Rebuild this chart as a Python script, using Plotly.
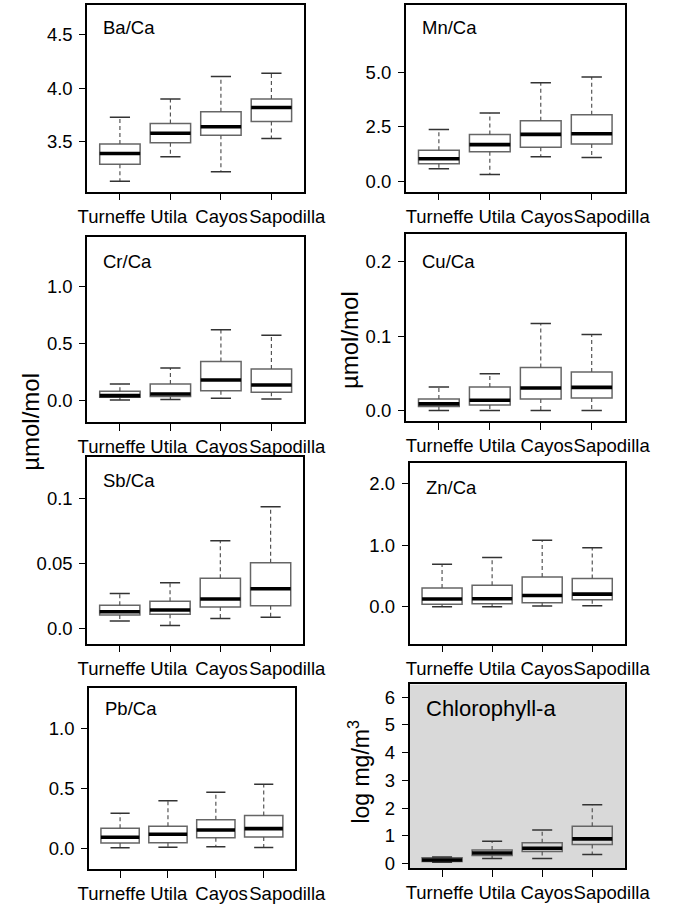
import plotly.graph_objects as go

W, H = 684, 907

sites = ["Turneffe", "Utila", "Cayos", "Sapodilla"]

# ---- data: box-plot statistics per site (lower whisker, Q1, median, Q3, upper whisker)
ba_lower = [3.13, 3.36, 3.22, 3.53]
ba_q1 = [3.29, 3.49, 3.56, 3.69]
ba_median = [3.39, 3.58, 3.64, 3.82]
ba_q3 = [3.48, 3.67, 3.78, 3.90]
ba_upper = [3.73, 3.90, 4.11, 4.14]

mn_lower = [0.56, 0.30, 1.12, 1.08]
mn_q1 = [0.79, 1.35, 1.55, 1.70]
mn_median = [1.02, 1.67, 2.14, 2.17]
mn_q3 = [1.41, 2.14, 2.77, 3.04]
mn_upper = [2.36, 3.12, 4.51, 4.77]

cr_lower = [0.006, 0.009, 0.020, 0.015]
cr_q1 = [0.029, 0.035, 0.087, 0.073]
cr_median = [0.044, 0.058, 0.181, 0.137]
cr_q3 = [0.082, 0.146, 0.344, 0.277]
cr_upper = [0.146, 0.286, 0.624, 0.574]

cu_lower = [0.000, 0.000, 0.000, 0.000]
cu_q1 = [0.0053, 0.0076, 0.0156, 0.0169]
cu_median = [0.0089, 0.0138, 0.0302, 0.0311]
cu_q3 = [0.0156, 0.0316, 0.0578, 0.0516]
cu_upper = [0.0316, 0.0493, 0.117, 0.102]

sb_lower = [0.0059, 0.0023, 0.0077, 0.0087]
sb_q1 = [0.0105, 0.0110, 0.0166, 0.0176]
sb_median = [0.0130, 0.0143, 0.0228, 0.0307]
sb_q3 = [0.0179, 0.0210, 0.0389, 0.0507]
sb_upper = [0.0271, 0.0353, 0.0678, 0.0939]

zn_lower = [0.0, 0.0, 0.011, 0.016]
zn_q1 = [0.038, 0.049, 0.065, 0.113]
zn_median = [0.124, 0.129, 0.183, 0.205]
zn_q3 = [0.302, 0.350, 0.485, 0.458]
zn_upper = [0.69, 0.80, 1.08, 0.96]

pb_lower = [0.003, 0.008, 0.011, 0.006]
pb_q1 = [0.042, 0.044, 0.086, 0.094]
pb_median = [0.091, 0.116, 0.152, 0.163]
pb_q3 = [0.166, 0.183, 0.238, 0.274]
pb_upper = [0.291, 0.396, 0.468, 0.535]

chl_lower = [0.05, 0.18, 0.18, 0.33]
chl_q1 = [0.07, 0.29, 0.43, 0.69]
chl_median = [0.13, 0.38, 0.55, 0.89]
chl_q3 = [0.21, 0.49, 0.75, 1.34]
chl_upper = [0.24, 0.80, 1.21, 2.12]

ba_ticks = [3.5, 4.0, 4.5]
ba_ticklabels = ["3.5", "4.0", "4.5"]
mn_ticks = [0.0, 2.5, 5.0]
mn_ticklabels = ["0.0", "2.5", "5.0"]
cr_ticks = [0.0, 0.5, 1.0]
cr_ticklabels = ["0.0", "0.5", "1.0"]
cu_ticks = [0.0, 0.1, 0.2]
cu_ticklabels = ["0.0", "0.1", "0.2"]
sb_ticks = [0.0, 0.05, 0.1]
sb_ticklabels = ["0.0", "0.05", "0.1"]
zn_ticks = [0.0, 1.0, 2.0]
zn_ticklabels = ["0.0", "1.0", "2.0"]
pb_ticks = [0.0, 0.5, 1.0]
pb_ticklabels = ["0.0", "0.5", "1.0"]
chl_ticks = [0, 1, 2, 3, 4, 5, 6]
chl_ticklabels = ["0", "1", "2", "3", "4", "5", "6"]

# ---- layout: category-label centres (pixels) for each column of panels
LABEL_PX_LEFT = [108, 169, 225, 295]
LABEL_PX_RIGHT = [457, 518, 571, 640]

# panel frames (left, right, top, bottom in px) and y ranges
panels = [
    dict(title="Ba/Ca", stats=(ba_lower, ba_q1, ba_median, ba_q3, ba_upper),
         ticks=ba_ticks, labels=ba_ticklabels, frame=(82, 313, 5, 193), yr=(3.033, 4.779), ty=28,
         lab=LABEL_PX_LEFT),
    dict(title="Mn/Ca", stats=(mn_lower, mn_q1, mn_median, mn_q3, mn_upper),
         ticks=mn_ticks, labels=mn_ticklabels, frame=(421, 654, 5, 193), yr=(-0.49, 8.08), ty=28,
         lab=LABEL_PX_RIGHT),
    dict(title="Cr/Ca", stats=(cr_lower, cr_q1, cr_median, cr_q3, cr_upper),
         ticks=cr_ticks, labels=cr_ticklabels, frame=(82, 313, 239, 425), yr=(-0.19, 1.436), ty=263,
         lab=LABEL_PX_LEFT),
    dict(title="Cu/Ca", stats=(cu_lower, cu_q1, cu_median, cu_q3, cu_upper),
         ticks=cu_ticks, labels=cu_ticklabels, frame=(421, 654, 236, 424), yr=(-0.0143, 0.2364), ty=263,
         lab=LABEL_PX_RIGHT),
    dict(title="Sb/Ca", stats=(sb_lower, sb_q1, sb_median, sb_q3, sb_upper),
         ticks=sb_ticks, labels=sb_ticklabels, frame=(82, 312, 460, 648), yr=(-0.0117, 0.1324), ty=484,
         lab=LABEL_PX_LEFT),
    dict(title="Zn/Ca", stats=(zn_lower, zn_q1, zn_median, zn_q3, zn_upper),
         ticks=zn_ticks, labels=zn_ticklabels, frame=(425, 654, 466, 648), yr=(-0.603, 2.34), ty=491,
         lab=LABEL_PX_RIGHT),
    dict(title="Pb/Ca", stats=(pb_lower, pb_q1, pb_median, pb_q3, pb_upper),
         ticks=pb_ticks, labels=pb_ticklabels, frame=(84, 303, 693, 875), yr=(-0.177, 1.338), ty=713,
         lab=LABEL_PX_LEFT),
    dict(title="Chlorophyll-a", stats=(chl_lower, chl_q1, chl_median, chl_q3, chl_upper),
         ticks=chl_ticks, labels=chl_ticklabels, frame=(425, 654, 689, 874), yr=(-0.168, 6.455), ty=713,
         bg="#d9d9d9", tsize=22, lab=LABEL_PX_RIGHT),
]

FONT = "Liberation Sans, Arial, sans-serif"
BOXW = 0.8
CAPW = 0.4
XR = (0.35, 4.65)

fig = go.Figure()
layout = dict(
    width=W, height=H, margin=dict(l=0, r=0, t=0, b=0),
    paper_bgcolor="white", plot_bgcolor="rgba(0,0,0,0)",
    showlegend=False, font=dict(family=FONT, color="black"),
    annotations=[], shapes=[],
)

positions = [1, 2, 3, 4]
N = len(panels)

for k, p in enumerate(panels, start=1):
    l, r, t, b = p["frame"]
    xa = "x" if k == 1 else f"x{k}"
    ya = "y" if k == 1 else f"y{k}"
    lower, q1, med, q3, upper = p["stats"]

    if "bg" in p:
        layout["shapes"].append(dict(type="rect", xref=f"{xa} domain", yref=f"{ya} domain",
                                     x0=0, x1=1, y0=0, y1=1, fillcolor=p["bg"],
                                     line=dict(width=0), layer="below"))

    # boxes (whiskers drawn separately as dashed lines)
    for i, pos in enumerate(positions):
        fig.add_trace(go.Box(
            x=[pos], q1=[q1[i]], median=[med[i]], q3=[q3[i]],
            lowerfence=[q1[i]], upperfence=[q3[i]],
            width=BOXW, whiskerwidth=0,
            fillcolor="rgba(0,0,0,0)", line=dict(color="#666666", width=1.5),
            boxpoints=False, xaxis=xa, yaxis=ya, hoverinfo="skip"))

    # dashed whiskers
    wx, wy = [], []
    for i, pos in enumerate(positions):
        wx += [pos, pos, None, pos, pos, None]
        wy += [q3[i], upper[i], None, q1[i], lower[i], None]
    fig.add_trace(go.Scatter(x=wx, y=wy, mode="lines", xaxis=xa, yaxis=ya,
                             line=dict(color="#555555", width=1.2, dash="4px,3px"),
                             hoverinfo="skip"))
    # caps
    cx, cy = [], []
    for i, pos in enumerate(positions):
        cx += [pos - CAPW / 2, pos + CAPW / 2, None, pos - CAPW / 2, pos + CAPW / 2, None]
        cy += [upper[i], upper[i], None, lower[i], lower[i], None]
    fig.add_trace(go.Scatter(x=cx, y=cy, mode="lines", xaxis=xa, yaxis=ya,
                             line=dict(color="#333333", width=1.5), hoverinfo="skip"))
    # thick medians
    mx, my = [], []
    for i, pos in enumerate(positions):
        mx += [pos - BOXW / 2, pos + BOXW / 2, None]
        my += [med[i], med[i], None]
    fig.add_trace(go.Scatter(x=mx, y=my, mode="lines", xaxis=xa, yaxis=ya,
                             line=dict(color="black", width=3.6), hoverinfo="skip"))

    axis_common = dict(showline=True, mirror=True, linecolor="black", linewidth=1.5,
                       ticks="outside", ticklen=6, tickwidth=1.3, tickcolor="black",
                       showgrid=False, zeroline=False,
                       tickfont=dict(size=18.5, family=FONT, color="black"))
    # main x axis: ticks at the box positions, no labels
    layout["xaxis" if k == 1 else f"xaxis{k}"] = dict(
        axis_common, domain=[l / W, r / W], anchor=ya, range=list(XR),
        tickmode="array", tickvals=positions, showticklabels=False, ticklen=7)
    # overlay x axis carrying the category labels (spread apart as in the original)
    lab_x = [XR[0] + (px - l) / (r - l) * (XR[1] - XR[0]) for px in p["lab"]]
    layout[f"xaxis{k + N}"] = dict(
        domain=[l / W, r / W], anchor=ya, overlaying=xa, side="bottom", range=list(XR),
        showline=False, showgrid=False, zeroline=False,
        ticks="outside", ticklen=7, tickcolor="rgba(0,0,0,0)",
        tickmode="array", tickvals=lab_x, ticktext=sites, tickangle=0,
        ticklabelstandoff=1, tickfont=dict(size=18.5, family=FONT, color="black"))
    layout["yaxis" if k == 1 else f"yaxis{k}"] = dict(
        axis_common, domain=[1 - b / H, 1 - t / H], anchor=xa, range=list(p["yr"]),
        tickmode="array", tickvals=p["ticks"], ticktext=p["labels"],
        ticklabelstandoff=3)

    layout["annotations"].append(dict(
        text=p["title"], xref="paper", yref="paper", x=(l + 15) / W, y=1 - p["ty"] / H,
        xanchor="left", yanchor="middle", showarrow=False,
        font=dict(size=p.get("tsize", 18.5), family=FONT, color="black")))

# invisible trace to activate each label axis
for k in range(1, N + 1):
    ya = "y" if k == 1 else f"y{k}"
    fig.add_trace(go.Scatter(x=[None], y=[None], xaxis=f"x{k + N}", yaxis=ya,
                             mode="markers", hoverinfo="skip", showlegend=False))

# y-axis titles
for txt, xc, yc, size in [("µmol/mol", 22, 425, 24), ("µmol/mol", 361, 342, 24),
                          ("log mg/m<sup>3</sup>", 371, 777, 23)]:
    layout["annotations"].append(dict(
        text=txt, xref="paper", yref="paper", x=xc / W, y=1 - yc / H,
        xanchor="center", yanchor="middle", textangle=-90, showarrow=False,
        font=dict(size=size, family=FONT, color="black")))

fig.update_layout(**layout)
fig.write_html("out.html")
